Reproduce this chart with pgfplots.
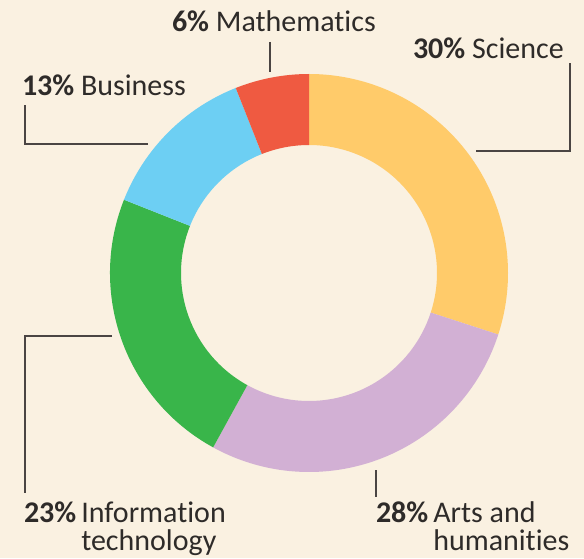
\documentclass[border=0pt]{standalone}
\usepackage{pgfplots}
\pgfplotsset{compat=1.18}
\usepackage{fontspec}
\setmainfont{Carlito}[Ligatures=NoCommon]
\definecolor{bg}{HTML}{FAF1E1}
\definecolor{sci}{HTML}{FFCB6A}
\definecolor{arts}{HTML}{D2B0D4}
\definecolor{it}{HTML}{39B54A}
\definecolor{bus}{HTML}{6DCFF3}
\definecolor{mth}{HTML}{EF5A41}
\definecolor{txt}{HTML}{2E2B29}
\definecolor{ln}{HTML}{4A4543}
% shares (per cent): Science 30, Arts 28, IT 23, Business 13, Mathematics 6
% start/end angles = 90 - 3.6 * cumulative share
\newcommand\donutwedge[3]{%
  \fill[#3] ([shift={(#1:199pt)}]C) arc[start angle=#1, end angle=#2, radius=199pt]
     -- ([shift={(#2:128pt)}]C) arc[start angle=#2, end angle=#1, radius=128pt] -- cycle;}
\begin{document}
\begin{tikzpicture}
\begin{axis}[width=584pt,height=558pt,scale only axis,
  xmin=0,xmax=584,ymin=0,ymax=558,hide axis,clip=false]
\fill[bg] (axis cs:0,0) rectangle (axis cs:584,558);
\path (axis cs:309,285) coordinate (C);
\donutwedge{90}{-18}{sci}
\donutwedge{-18}{-118.8}{arts}
\donutwedge{-118.8}{-201.6}{it}
\donutwedge{-201.6}{-248.4}{bus}
\donutwedge{-248.4}{-270}{mth}
% leader lines (y = 558 - image y)
\draw[ln,line width=1.3pt] (axis cs:270,516) -- (axis cs:270,486);
\draw[ln,line width=1.3pt] (axis cs:476,407) -- (axis cs:570,407) -- (axis cs:570,495);
\draw[ln,line width=1.3pt] (axis cs:148,414) -- (axis cs:25,414) -- (axis cs:25,453);
\draw[ln,line width=1.3pt] (axis cs:112,222) -- (axis cs:25,222) -- (axis cs:25,65);
\draw[ln,line width=1.3pt] (axis cs:376,88) -- (axis cs:376,61);
% labels
\tikzset{lab/.style={anchor=base west,inner sep=0pt,outer sep=0pt,text=txt,font=\fontsize{30}{25}\selectfont}}
\node[lab] at (axis cs:172,526) {\textbf{6\%} Mathematics};
\node[lab] at (axis cs:413,499) {\textbf{30\%} Science};
\node[lab] at (axis cs:22,462) {\textbf{13\%} Business};
\node[lab] at (axis cs:24,36) {\begin{tabular}[t]{@{}l@{\hspace{5pt}}l@{}}\textbf{23\%} & Information\\ & technology\end{tabular}};
\node[lab] at (axis cs:376,36) {\begin{tabular}[t]{@{}l@{\hspace{5pt}}l@{}}\textbf{28\%} & Arts and\\ & humanities\end{tabular}};
\end{axis}
\end{tikzpicture}
\end{document}
